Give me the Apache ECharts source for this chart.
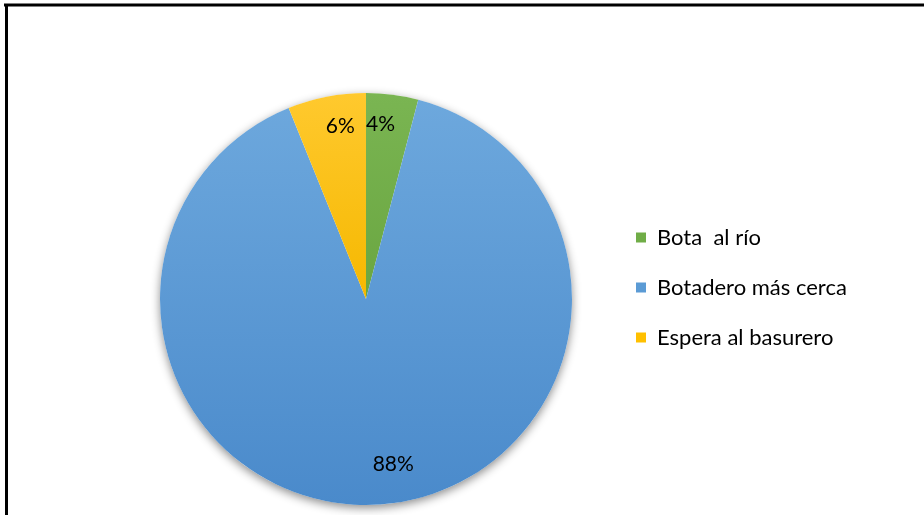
<!DOCTYPE html>
<html>
<head>
<meta charset="utf-8">
<script src="https://cdn.jsdelivr.net/npm/echarts@6/dist/echarts.min.js"></script>
<style>
  html, body { margin: 0; padding: 0; background: #ffffff; }
  #chart { width: 924px; height: 515px; }
</style>
</head>
<body>
<div id="chart"></div>
<script>
// Destino de la basura: respuestas en porcentaje
const categories = ['Bota  al río', 'Botadero más cerca', 'Espera al basurero'];
const percentages = [4, 88, 6];

const FONT = 'Lato, "Open Sans", sans-serif';

// Relleno de cada sector: degradado vertical suave (claro arriba, oscuro abajo)
function vgrad(top, bottom) {
  return new echarts.graphic.LinearGradient(0, 0, 0, 1, [
    { offset: 0, color: top },
    { offset: 1, color: bottom }
  ]);
}
const fills = [
  vgrad('#7ab552', '#6aa641'),
  vgrad('#6da8dd', '#4a8acb'),
  vgrad('#ffc92e', '#f5b800')
];
const legendColors = ['#70ad47', '#5b9bd5', '#ffc000'];

const center = [366, 299];
const R = 206;

const sliceData = categories.map((name, i) => ({
  name: name,
  value: percentages[i],
  itemStyle: { color: fills[i] }
}));

// pequeños desplazamientos de las etiquetas de porcentaje
const labelOffsets = [[-8, 0], [16, -10], [8, 0]];

const chart = echarts.init(document.getElementById('chart'), null, { renderer: 'canvas' });

chart.setOption({
  backgroundColor: '#ffffff',
  animation: false,
  color: legendColors,
  legend: {
    orient: 'vertical',
    left: 636,
    top: 225,
    padding: 0,
    itemWidth: 10,
    itemHeight: 10,
    itemGap: 25,
    icon: 'rect',
    selectedMode: false,
    data: categories.map((name, i) => ({ name: name, itemStyle: { color: legendColors[i] } })),
    textStyle: {
      fontFamily: FONT,
      fontSize: 22,
      color: '#000000',
      lineHeight: 25,
      padding: [0, 0, 0, 6]
    }
  },
  graphic: [
    // marco del gráfico (bordes superior e izquierdo)
    { type: 'line', shape: { x1: 4, y1: 5, x2: 924, y2: 5 }, style: { stroke: '#000', lineWidth: 3 }, z: 100 },
    { type: 'line', shape: { x1: 6.5, y1: 4, x2: 6.5, y2: 515 }, style: { stroke: '#000', lineWidth: 3 }, z: 100 }
  ],
  series: [
    {
      // sombra del círculo completo
      type: 'pie',
      silent: true,
      center: center,
      radius: [0, R],
      z: 1,
      label: { show: false },
      labelLine: { show: false },
      itemStyle: {
        color: '#ffffff',
        shadowBlur: 10,
        shadowColor: 'rgba(0,0,0,0.45)',
        shadowOffsetY: 3
      },
      data: [{ value: 1, name: '' }],
      legendHoverLink: false
    },
    {
      type: 'pie',
      center: center,
      radius: [0, R],
      startAngle: 90,
      clockwise: true,
      z: 2,
      label: { show: false },
      labelLine: { show: false },
      itemStyle: { borderWidth: 0 },
      data: sliceData
    },
    {
      // anillo transparente que sitúa las etiquetas de porcentaje
      type: 'pie',
      silent: true,
      center: center,
      radius: [140, R],
      startAngle: 90,
      clockwise: true,
      z: 3,
      itemStyle: { color: 'rgba(0,0,0,0)' },
      labelLine: { show: false },
      label: {
        show: true,
        position: 'inside',
        formatter: '{c}%',
        fontFamily: FONT,
        fontSize: 21,
        color: '#000000'
      },
      data: categories.map((name, i) => ({
        name: name,
        value: percentages[i],
        label: { offset: labelOffsets[i] }
      }))
    }
  ]
});
</script>
</body>
</html>
